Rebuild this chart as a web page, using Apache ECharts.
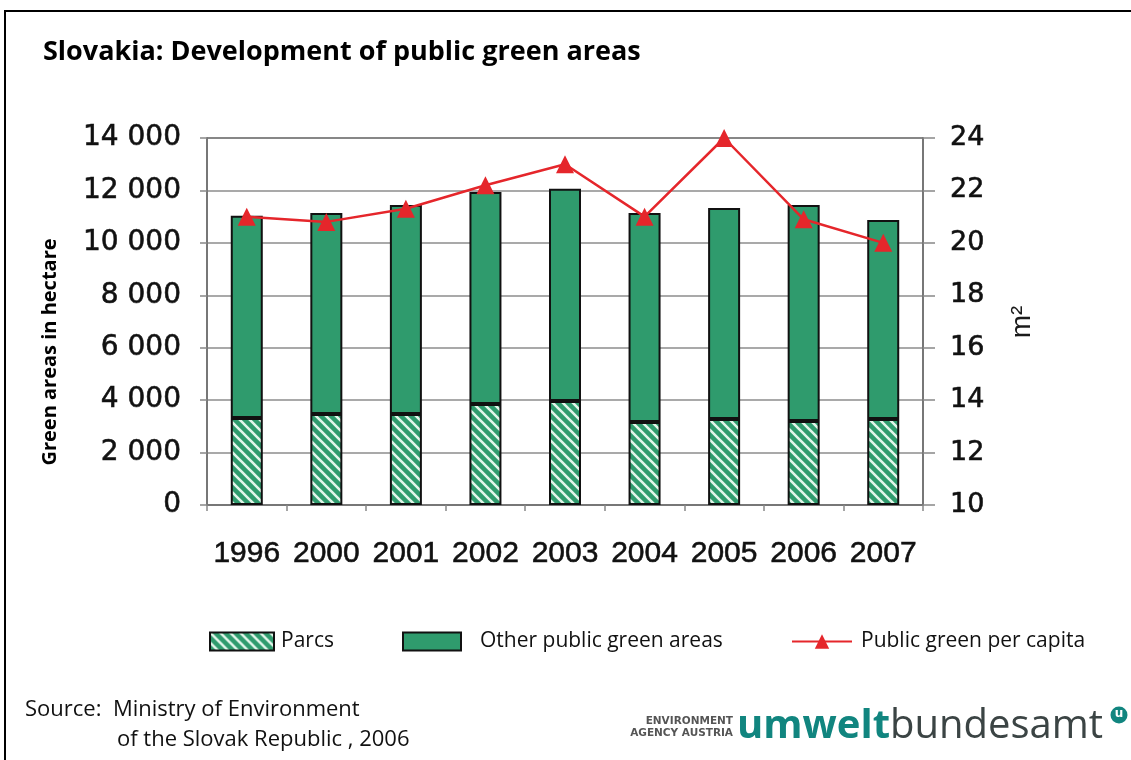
<!DOCTYPE html>
<html>
<head>
<meta charset="utf-8">
<script src="https://cdn.jsdelivr.net/npm/echarts@6.0.0/dist/echarts.min.js"></script>
<style>
  html, body { margin: 0; padding: 0; background: #fff; }
  #chart { width: 1131px; height: 760px; }
</style>
</head>
<body>
<div id="chart"></div>
<script>
// values
const years = ['1996', '2000', '2001', '2002', '2003', '2004', '2005', '2006', '2007']
const parcs = [3320, 3470, 3470, 3850, 3970, 3170, 3280, 3200, 3280]
const otherGreen = [7710, 7670, 7970, 8090, 8090, 7970, 8050, 8240, 7590]
const perCapita = [21.0, 20.8, 21.3, 22.2, 23.0, 21.0, 24.0, 20.9, 20.0]

const green = '#2f9b6d'
const lineRed = '#e5262b'
const gridGray = '#8c8c8c'

// hatched fill for the parcs bars
function hatch() {
  let c = document.createElement('canvas')
  c.width = 10
  c.height = 10
  let ctx = c.getContext('2d')
  ctx.fillStyle = green
  ctx.fillRect(0, 0, 10, 10)
  ctx.strokeStyle = 'rgba(235,250,240,0.95)'
  ctx.lineWidth = 2.6
  ctx.beginPath()
  for (let k = -10; k <= 10; k += 10) {
    ctx.moveTo(k - 2, -2)
    ctx.lineTo(k + 12, 12)
  }
  ctx.stroke()
  return c
}

const chart = echarts.init(document.getElementById('chart'))

const legendText = { fontFamily: 'Open Sans', fontSize: 21, color: '#111' }
// the scanned labels look a bit heavier than a plain regular weight
const heavy = { textBorderColor: '#222', textBorderWidth: 0.6 }

let option = {
  backgroundColor: '#fff',
  animation: false,
  title: {
    text: 'Slovakia: Development of public green areas',
    left: 38,
    top: 34,
    textStyle: { fontFamily: 'Open Sans', fontWeight: 'bold', fontSize: 27, color: '#000' }
  },
  grid: { left: 207, right: 208, top: 138, bottom: 255 },
  legend: [
    {
      data: ['Parcs'], icon: 'rect', left: 204, top: 626, itemWidth: 64, itemHeight: 18,
      textStyle: Object.assign({ padding: [0, 0, 0, 2] }, legendText)
    },
    {
      data: ['Other public green areas'], icon: 'rect', left: 397, top: 626, itemWidth: 58, itemHeight: 18,
      textStyle: Object.assign({ padding: [0, 0, 0, 14] }, legendText)
    },
    {
      data: ['Public green per capita'], left: 786, top: 626, itemWidth: 60, itemHeight: 18,
      textStyle: Object.assign({ padding: [0, 0, 0, 4] }, legendText)
    }
  ],
  xAxis: {
    type: 'category',
    data: years,
    axisLine: { lineStyle: { color: '#777', width: 2 } },
    axisTick: { show: true, length: 6, lineStyle: { color: '#888', width: 1.5 } },
    axisLabel: Object.assign({ interval: 0, fontFamily: 'Liberation Sans', fontSize: 30, color: '#111', margin: 34 }, heavy)
  },
  yAxis: [
    {
      type: 'value',
      min: 0,
      max: 14000,
      interval: 2000,
      axisLine: { show: true, lineStyle: { color: '#777', width: 2 } },
      axisTick: { show: true, length: 7, lineStyle: { color: '#888', width: 1.5 } },
      splitLine: { lineStyle: { color: gridGray, width: 1.5 } },
      axisLabel: Object.assign({
        fontFamily: 'DejaVu Sans', fontSize: 28, color: '#111', margin: 26,
        formatter: v => String(v).replace(/\B(?=(\d{3})+(?!\d))/g, ' ')
      }, heavy)
    },
    {
      type: 'value',
      min: 10,
      max: 24,
      interval: 2,
      position: 'right',
      axisLine: { show: true, lineStyle: { color: '#777', width: 2 } },
      axisTick: { show: true, length: 12, lineStyle: { color: '#888', width: 1.5 } },
      splitLine: { show: false },
      axisLabel: Object.assign({ fontFamily: 'DejaVu Sans', fontSize: 27, color: '#111', margin: 27 }, heavy)
    }
  ],
  series: [
    {
      name: 'Parcs',
      type: 'bar',
      stack: 'area',
      barWidth: 32,
      data: parcs,
      itemStyle: { color: { image: hatch(), repeat: 'repeat' }, borderColor: '#111', borderWidth: 2 }
    },
    {
      name: 'Other public green areas',
      type: 'bar',
      stack: 'area',
      barWidth: 32,
      data: otherGreen,
      itemStyle: { color: green, borderColor: '#111', borderWidth: 2 }
    },
    {
      name: 'Public green per capita',
      type: 'line',
      yAxisIndex: 1,
      data: perCapita,
      symbol: 'triangle',
      symbolSize: 18,
      lineStyle: { color: lineRed, width: 2.5 },
      itemStyle: { color: lineRed }
    }
  ],
  graphic: [
    // frame round the slide
    { type: 'polyline', shape: { points: [[5, 760], [5, 11], [1131, 11]] }, style: { stroke: '#000', lineWidth: 2, fill: null } },
    // top border of the plot area
    { type: 'line', shape: { x1: 207, y1: 138, x2: 923, y2: 138 }, style: { stroke: '#777', lineWidth: 2 } },
    {
      type: 'text', x: 50, y: 352, rotation: Math.PI / 2,
      style: { text: 'Green areas in hectare', fontFamily: 'Open Sans', fontWeight: 'bold', fontSize: 20, fill: '#000', align: 'center', verticalAlign: 'middle' }
    },
    {
      type: 'text', x: 1022, y: 322, rotation: Math.PI / 2,
      style: { text: 'm²', fontFamily: 'Liberation Sans', fontSize: 28, fill: '#1a1a1a', align: 'center', verticalAlign: 'middle' }
    },
    {
      type: 'text', x: 25, y: 710,
      style: { text: 'Source:  Ministry of Environment', fontFamily: 'Open Sans', fontSize: 22, fill: '#111', verticalAlign: 'middle' }
    },
    {
      type: 'text', x: 117, y: 740,
      style: { text: 'of the Slovak Republic , 2006', fontFamily: 'Open Sans', fontSize: 22, fill: '#111', verticalAlign: 'middle' }
    },
    // logo
    {
      type: 'text', x: 733, y: 727,
      style: { text: 'ENVIRONMENT\nAGENCY AUSTRIA', fontFamily: 'DejaVu Sans', fontWeight: 'bold', fontSize: 10.5, lineHeight: 12, fill: '#555', align: 'right', verticalAlign: 'middle' }
    },
    {
      type: 'text', x: 737, y: 727,
      style: {
        text: '{a|umwelt}{b|bundesamt}',
        verticalAlign: 'middle',
        rich: {
          a: { fontFamily: 'Open Sans', fontWeight: 'bold', fontSize: 40, fill: '#11857f' },
          b: { fontFamily: 'Open Sans', fontSize: 40, fill: '#3b4444' }
        }
      }
    },
    { type: 'circle', shape: { cx: 1119, cy: 715, r: 8.5 }, style: { fill: '#11857f' } },
    {
      type: 'text', x: 1119, y: 714,
      style: { text: 'u', fontFamily: 'DejaVu Sans', fontWeight: 'bold', fontSize: 12, fill: '#fff', align: 'center', verticalAlign: 'middle' }
    }
  ]
}

chart.setOption(option)
</script>
</body>
</html>
